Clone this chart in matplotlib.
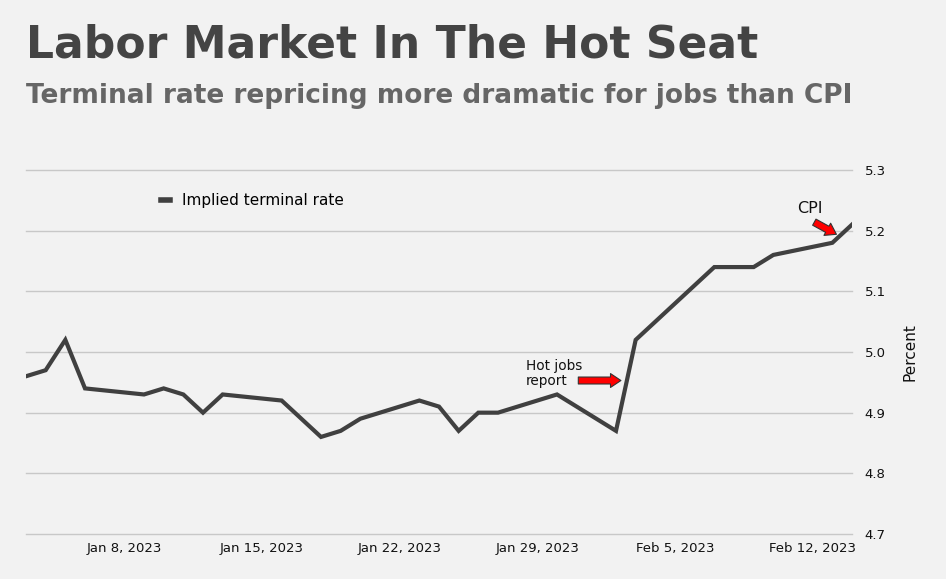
import matplotlib
matplotlib.use("Agg")
import matplotlib.pyplot as plt
import pandas as pd

# implied terminal rate, business days
dates = pd.to_datetime([
    "2023-01-03", "2023-01-04", "2023-01-05", "2023-01-06",
    "2023-01-09", "2023-01-10", "2023-01-11", "2023-01-12", "2023-01-13",
    "2023-01-16", "2023-01-18", "2023-01-19", "2023-01-20",
    "2023-01-23", "2023-01-24", "2023-01-25", "2023-01-26", "2023-01-27",
    "2023-01-30", "2023-02-02", "2023-02-03",
    "2023-02-07", "2023-02-09", "2023-02-10",
    "2023-02-13", "2023-02-14",
])
rate = [4.96, 4.97, 5.02, 4.94,
        4.93, 4.94, 4.93, 4.90, 4.93,
        4.92, 4.86, 4.87, 4.89,
        4.92, 4.91, 4.87, 4.90, 4.90,
        4.93, 4.87, 5.02,
        5.14, 5.14, 5.16,
        5.18, 5.21]

tick_dates = pd.to_datetime(["2023-01-08", "2023-01-15", "2023-01-22",
                             "2023-01-29", "2023-02-05", "2023-02-12"])
tick_labels = ["Jan 8, 2023", "Jan 15, 2023", "Jan 22, 2023",
               "Jan 29, 2023", "Feb 5, 2023", "Feb 12, 2023"]
y_ticks = [4.7, 4.8, 4.9, 5.0, 5.1, 5.2, 5.3]

bg = "#f2f2f2"
fig = plt.figure(figsize=(9.46, 5.79), dpi=100, facecolor=bg)
ax = fig.add_axes([26/946, 45/579, 826/946, 364/579], facecolor=bg)

ax.plot(dates, rate, color="#404040", lw=3.0, solid_joinstyle="miter",
        label="Implied terminal rate")

ax.set_xlim(pd.Timestamp("2023-01-03"), pd.Timestamp("2023-02-14"))
ax.set_ylim(4.7, 5.3)
ax.set_yticks(y_ticks)
ax.set_yticklabels([f"{v:.1f}" for v in y_ticks])
ax.set_xticks(tick_dates)
ax.set_xticklabels(tick_labels)
ax.yaxis.tick_right()
ax.yaxis.set_label_position("right")
ax.tick_params(axis="both", length=0, labelsize=9.5, colors="#111111")
ax.tick_params(axis="y", pad=9)
ax.tick_params(axis="x", pad=6)
ax.grid(axis="y", color="#c8c8c8", lw=1)
for gl in ax.get_ygridlines():
    gl.set_clip_on(False)
ax.set_axisbelow(True)
for s in ax.spines.values():
    s.set_visible(False)
ax.set_ylabel("Percent", fontsize=11, labelpad=12, color="#111111")

leg = ax.legend(loc="upper left", bbox_to_anchor=(0.147, 0.975), frameon=False,
                handlelength=0.6, handletextpad=0.75, fontsize=11)
leg.get_lines()[0].set_linewidth(4)

# annotations
arrow = "simple,head_length=0.75,head_width=1.0,tail_width=0.5"
ax.annotate("", xy=(pd.Timestamp("2023-02-02 06:00"), 4.953),
            xytext=(pd.Timestamp("2023-01-31 02:00"), 4.953),
            arrowprops=dict(arrowstyle=arrow, fc="#ff0000", ec="#333333",
                            lw=0.8, shrinkA=0, shrinkB=0))
ax.text(pd.Timestamp("2023-01-28 10:00"), 4.964, "Hot jobs\nreport", fontsize=9.8,
        va="center", ha="left", color="#111111", linespacing=1.1)
ax.annotate("", xy=(pd.Timestamp("2023-02-13 05:00"), 5.194),
            xytext=(pd.Timestamp("2023-02-12 02:00"), 5.214),
            arrowprops=dict(arrowstyle=arrow, fc="#ff0000", ec="#333333",
                            lw=0.8, shrinkA=0, shrinkB=0))
ax.text(pd.Timestamp("2023-02-11 21:00"), 5.237, "CPI", fontsize=11.5,
        ha="center", va="center", color="#111111")

fig.text(26/946, 1 - 45/579, "Labor Market In The Hot Seat", fontsize=31.7,
         fontweight="bold", color="#444444", va="center", ha="left")
fig.text(26/946, 1 - 96/579, "Terminal rate repricing more dramatic for jobs than CPI",
         fontsize=19, fontweight="bold", color="#666666", va="center", ha="left")

fig.savefig("out.png", dpi=100, facecolor=bg)
